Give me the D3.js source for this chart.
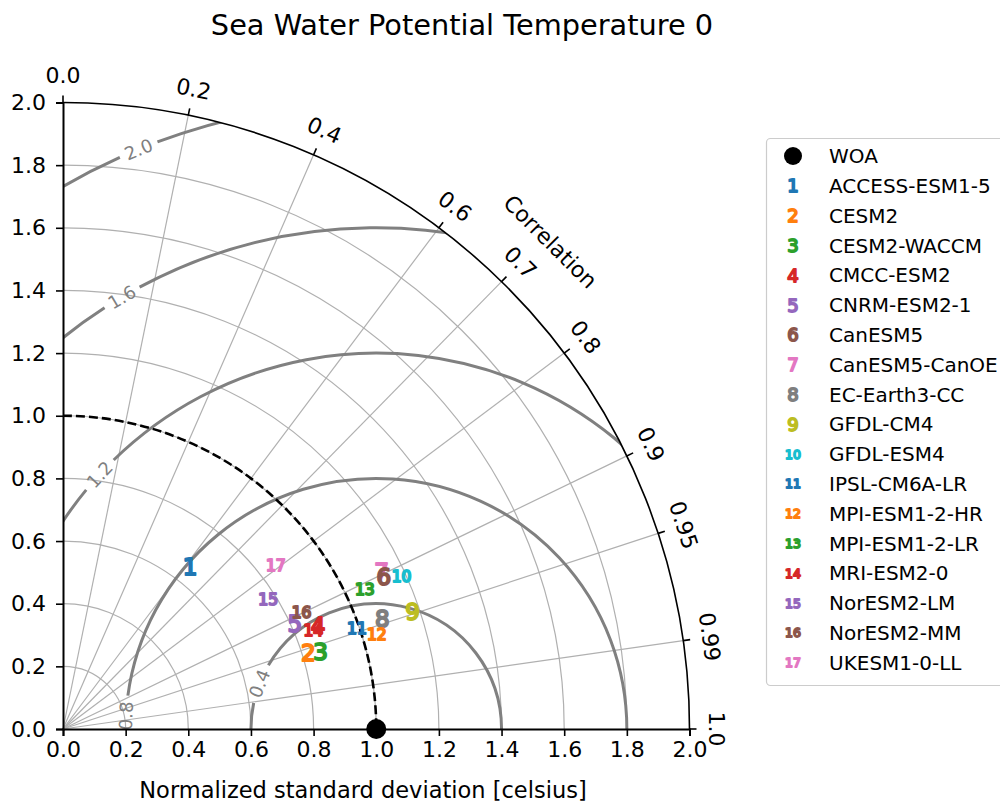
<!DOCTYPE html>
<html>
<head>
<meta charset="utf-8">
<script src="https://cdn.jsdelivr.net/npm/d3@7"></script>
<style>
  html, body { margin: 0; padding: 0; background: #fff; }
  svg { display: block; font-family: "DejaVu Sans", sans-serif; }
</style>
</head>
<body>
<svg id="chart" width="1000" height="805"></svg>
<script>
// Taylor diagram: normalized standard deviation vs correlation with WOA
const title = "Sea Water Potential Temperature 0";
const xLabel = "Normalized standard deviation [celsius]";
const corrLabel = "Correlation";

const refName = "WOA";
const refStd = 1.0;

const models = ["ACCESS-ESM1-5", "CESM2", "CESM2-WACCM", "CMCC-ESM2", "CNRM-ESM2-1",
  "CanESM5", "CanESM5-CanOE", "EC-Earth3-CC", "GFDL-CM4", "GFDL-ESM4", "IPSL-CM6A-LR",
  "MPI-ESM1-2-HR", "MPI-ESM1-2-LR", "MRI-ESM2-0", "NorESM2-LM", "NorESM2-MM", "UKESM1-0-LL"];
const modelStd  = [0.657, 0.820, 0.858, 0.878, 0.812, 1.134, 1.134, 1.079, 1.177, 1.185,
  0.992, 1.047, 1.061, 0.859, 0.775, 0.848, 0.858];
const modelCorr = [0.617, 0.955, 0.958, 0.927, 0.911, 0.903, 0.897, 0.945, 0.948, 0.912,
  0.946, 0.957, 0.908, 0.930, 0.845, 0.898, 0.792];
const modelColors = ["#1f77b4", "#ff7f0e", "#2ca02c", "#d62728", "#9467bd", "#8c564b",
  "#e377c2", "#7f7f7f", "#bcbd22", "#17becf", "#1f77b4", "#ff7f0e", "#2ca02c", "#d62728",
  "#9467bd", "#8c564b", "#e377c2"];

const stdTicks = [0.0, 0.2, 0.4, 0.6, 0.8, 1.0, 1.2, 1.4, 1.6, 1.8, 2.0];
const corrTicks = [0.0, 0.2, 0.4, 0.6, 0.7, 0.8, 0.9, 0.95, 0.99, 1.0];
const corrTickLabels = ["0.0", "0.2", "0.4", "0.6", "0.7", "0.8", "0.9", "0.95", "0.99", "1.0"];
const rmsLevels = [0.4, 0.8, 1.2, 1.6, 2.0];
const rmsLabelAngles = [158.7, 177.0, 137.4, 120.5, 112.3]; // degrees around the reference point

const stdMax = 2.0;

// ---- layout ----
const ox = 63, oy = 729, R = 626.5;
const svg = d3.select("#chart");
const x = d3.scaleLinear().domain([0, stdMax]).range([ox, ox + R]);
const y = d3.scaleLinear().domain([0, stdMax]).range([oy, oy - R]);
const rr = d3.scaleLinear().domain([0, stdMax]).range([0, R]);
const pt = (s, c) => [x(s * c), y(s * Math.sqrt(Math.max(0, 1 - c * c)))];

// quarter arc of radius s (data units) around the origin
function stdArc(s) {
  const p = d3.path();
  p.moveTo(ox, oy - rr(s));
  p.arc(ox, oy, rr(s), -Math.PI / 2, 0, false);
  return p.toString();
}

const defs = svg.append("defs");
defs.append("clipPath").attr("id", "quad").append("path")
  .attr("d", () => {
    const p = d3.path();
    p.moveTo(ox, oy);
    p.lineTo(ox, oy - R);
    p.arc(ox, oy, R, -Math.PI / 2, 0, false);
    p.closePath();
    return p.toString();
  });

// ---- grid ----
const grid = svg.append("g").attr("stroke", "#b0b0b0").attr("stroke-width", 1.2).attr("fill", "none");
grid.selectAll("path.sg").data(stdTicks.filter(s => s > 0 && s < stdMax)).join("path")
  .attr("class", "sg").attr("d", stdArc);
grid.selectAll("line.cg").data(corrTicks.filter(c => c > 0 && c < 1)).join("line")
  .attr("class", "cg")
  .attr("x1", ox).attr("y1", oy)
  .attr("x2", c => pt(stdMax, c)[0]).attr("y2", c => pt(stdMax, c)[1]);

// ---- centred RMS difference contours ----
const cx = x(refStd), cy = y(0);
const contours = svg.append("g").attr("clip-path", "url(#quad)");
const clabels = svg.append("g");
rmsLevels.forEach((lev, i) => {
  const Rl = rr(lev);
  const phi = rmsLabelAngles[i] * Math.PI / 180;
  const lx = cx + Rl * Math.cos(phi), ly = cy - Rl * Math.sin(phi);
  let rot = Math.atan2(-Math.cos(phi), -Math.sin(phi)) * 180 / Math.PI;
  if (rot > 90) rot -= 180;
  if (rot <= -90) rot += 180;
  const t = clabels.append("text")
    .attr("transform", `translate(${lx},${ly}) rotate(${rot})`)
    .attr("text-anchor", "middle").attr("dy", "0.36em")
    .attr("font-size", 18).attr("fill", "#808080")
    .text(lev.toFixed(1));
  const w = t.node().getComputedTextLength() + 12;
  const half = (w / 2) / Rl;
  const segs = [[0, phi - half], [phi + half, Math.PI]];
  segs.forEach(([a0, a1]) => {
    if (a1 <= a0) return;
    const p = d3.path();
    p.moveTo(cx + Rl * Math.cos(a0), cy - Rl * Math.sin(a0));
    p.arc(cx, cy, Rl, -a0, -a1, true);
    contours.append("path").attr("d", p.toString())
      .attr("fill", "none").attr("stroke", "#808080").attr("stroke-width", 3);
  });
});

// reference standard deviation arc
svg.append("path").attr("d", stdArc(refStd))
  .attr("fill", "none").attr("stroke", "#000").attr("stroke-width", 2.6)
  .attr("stroke-dasharray", "9,4");

// ---- frame and axes ----
svg.append("path").attr("d", stdArc(stdMax)).attr("fill", "none").attr("stroke", "#000").attr("stroke-width", 1.6);

const xAxis = svg.append("g").attr("transform", `translate(0,${oy})`)
  .call(d3.axisBottom(x).tickValues(stdTicks).tickFormat(d3.format(".1f")).tickSize(7).tickPadding(5));
const yAxis = svg.append("g").attr("transform", `translate(${ox},0)`)
  .call(d3.axisLeft(y).tickValues(stdTicks).tickFormat(d3.format(".1f")).tickSize(7).tickPadding(10));
[xAxis, yAxis].forEach(a => {
  a.select(".domain").attr("stroke", "#000").attr("stroke-width", 2);
  a.selectAll(".tick line").attr("stroke", "#000").attr("stroke-width", 1.6);
  a.selectAll(".tick text").attr("fill", "#000").attr("font-size", 22).attr("font-family", "DejaVu Sans");
});

// correlation ticks and labels along the outer arc
const ct = svg.append("g");
corrTicks.forEach((c, i) => {
  const th = Math.acos(c);
  const ux = Math.cos(th), uy = -Math.sin(th);
  ct.append("line")
    .attr("x1", ox + R * ux).attr("y1", oy + R * uy)
    .attr("x2", ox + (R + 7) * ux).attr("y2", oy + (R + 7) * uy)
    .attr("stroke", "#000").attr("stroke-width", 1.6);
  const lr = R + 27;
  ct.append("text")
    .attr("transform", `translate(${ox + lr * ux},${oy + lr * uy}) rotate(${90 - th * 180 / Math.PI})`)
    .attr("text-anchor", "middle").attr("dy", "0.36em")
    .attr("font-size", 22).attr("fill", "#000")
    .text(corrTickLabels[i]);
});
{
  const th = Math.PI / 4, lr = R + 63;
  svg.append("text")
    .attr("transform", `translate(${ox + lr * Math.cos(th)},${oy - lr * Math.sin(th)}) rotate(45)`)
    .attr("text-anchor", "middle").attr("dy", "0.36em")
    .attr("font-size", 22).attr("fill", "#000").text(corrLabel);
}

// axis title and chart title
svg.append("text").attr("x", 363).attr("y", 798).attr("text-anchor", "middle")
  .attr("font-size", 22.5).attr("fill", "#000").text(xLabel);
svg.append("text").attr("x", 462).attr("y", 35).attr("text-anchor", "middle")
  .attr("font-size", 28.8).attr("fill", "#000").text(title);

// ---- model markers ----
const markerSize = n => (String(n).length > 1 ? 15.5 : 23);
const order = d3.range(models.length);
// CanESM5-CanOE sits under CanESM5
order.splice(6, 1); order.splice(5, 0, 6);
const marks = svg.append("g");
order.forEach(i => {
  const [px, py] = pt(modelStd[i], modelCorr[i]);
  const n = i + 1;
  marks.append("text").attr("x", px).attr("y", py)
    .attr("text-anchor", "middle").attr("dy", "0.365em")
    .attr("font-size", markerSize(n))
    .attr("fill", modelColors[i]).attr("stroke", modelColors[i]).attr("stroke-width", 2)
    .attr("stroke-linejoin", "round")
    .text(n);
});

// reference point
svg.append("circle").attr("cx", x(refStd)).attr("cy", y(0)).attr("r", 10).attr("fill", "#000");

// ---- legend ----
const lg = svg.append("g");
lg.append("rect").attr("x", 766.5).attr("y", 138.5).attr("width", 260).attr("height", 547)
  .attr("rx", 4).attr("fill", "#fff").attr("fill-opacity", 0.8)
  .attr("stroke", "#cccccc").attr("stroke-width", 1.2);
const rowY = i => 156 + i * 29.8;
lg.append("circle").attr("cx", 793).attr("cy", rowY(0)).attr("r", 9).attr("fill", "#000");
lg.append("text").attr("x", 829).attr("y", rowY(0)).attr("dy", "0.36em")
  .attr("font-size", 20).attr("fill", "#000").text(refName);
models.forEach((m, i) => {
  const n = i + 1;
  lg.append("text").attr("x", 793).attr("y", rowY(n)).attr("dy", "0.365em")
    .attr("text-anchor", "middle")
    .attr("font-size", String(n).length > 1 ? 12.5 : 18)
    .attr("fill", modelColors[i]).attr("stroke", modelColors[i]).attr("stroke-width", 1.8)
    .attr("stroke-linejoin", "round").text(n);
  lg.append("text").attr("x", 829).attr("y", rowY(n)).attr("dy", "0.36em")
    .attr("font-size", 20).attr("fill", "#000").text(m);
});
</script>
</body>
</html>
